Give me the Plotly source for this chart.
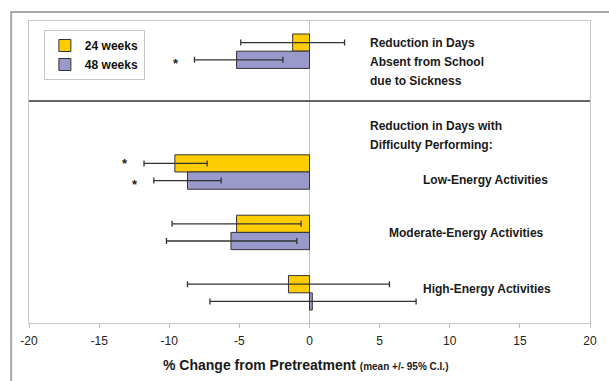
import plotly.graph_objects as go

# ---- data ----
categories = ["Absent from School due to Sickness", "Difficulty Performing",
              "Low-Energy Activities", "Moderate-Energy Activities", "High-Energy Activities"]
wk24_mean = [-1.2, None, -9.6, -5.2, -1.5]
wk24_lo = [-4.9, None, -11.8, -9.8, -8.7]
wk24_hi = [2.5, None, -7.3, -0.6, 5.7]
wk48_mean = [-5.2, None, -8.7, -5.6, 0.2]
wk48_lo = [-8.2, None, -11.1, -10.2, -7.1]
wk48_hi = [-1.9, None, -6.3, -0.9, 7.6]
wk24_sig = [False, False, True, False, False]
wk48_sig = [True, False, True, False, False]
x_ticks = [-20, -15, -10, -5, 0, 5, 10, 15, 20]
x_tick_labels = ["-20", "-15", "-10", "-5", "0", "5", "10", "15", "20"]

FONT = "Liberation Sans, Arial, sans-serif"
YELLOW = "#FFCC00"
PURPLE = "#9999CC"


def plus(m, hi):
    return [None if v is None else h - v for v, h in zip(m, hi)]


def minus(m, lo):
    return [None if v is None else v - l for v, l in zip(m, lo)]


fig = go.Figure()
for name, mean, lo, hi, color in [("24 weeks", wk24_mean, wk24_lo, wk24_hi, YELLOW),
                                  ("48 weeks", wk48_mean, wk48_lo, wk48_hi, PURPLE)]:
    fig.add_trace(go.Bar(
        y=categories, x=mean, orientation="h", name=name,
        marker=dict(color=color, line=dict(color="#333333", width=1)),
        error_x=dict(type="data", symmetric=False, array=plus(mean, hi),
                     arrayminus=minus(mean, lo), color="#333333", thickness=1.3, width=3),
    ))

# significance stars
annotations = []
for sig, lo, shift in [(wk24_sig, wk24_lo, 9), (wk48_sig, wk48_lo, -12)]:
    for cat, s, l in zip(categories, sig, lo):
        if s:
            annotations.append(dict(x=l - 1.35, y=cat, xref="x", yref="y", text="<b>*</b>",
                                    showarrow=False, yshift=shift,
                                    font=dict(family=FONT, size=13, color="#222222")))

# helper: pixel -> paper
PL, PT, PW, PH = 29, 21, 566, 302


def px(x):
    return (x - PL) / PW


def py(y):
    return 1 - (y - PT) / PH


text_items = [
    ("Reduction in Days", 371, 43), ("Absent from School", 371, 62), ("due to Sickness", 371, 81),
    ("Reduction in Days with", 371, 126), ("Difficulty Performing:", 371, 145),
    ("Low-Energy Activities", 424, 180), ("Moderate-Energy Activities", 390, 233),
    ("High-Energy Activities", 424, 289),
]
for t, x, y in text_items:
    annotations.append(dict(x=px(x), y=py(y), xref="paper", yref="paper", text="<b>" + t + "</b>",
                            xanchor="left", yanchor="middle", showarrow=False,
                            font=dict(family=FONT, size=12, color="#1a1a1a")))

annotations.append(dict(
    x=px(308), y=py(365), xref="paper", yref="paper", showarrow=False,
    xanchor="center", yanchor="middle",
    text="<b>% Change from Pretreatment</b> <b><span style='font-size:10px'>(mean +/- 95% C.I.)</span></b>",
    font=dict(family=FONT, size=14, color="#1a1a1a")))

shapes = [
    # separator line
    dict(type="line", xref="paper", yref="paper", x0=0, x1=1, y0=py(101), y1=py(101),
         line=dict(color="#333333", width=1.5)),
    # outer chart frame (left and top edges visible)
    dict(type="rect", xref="paper", yref="paper",
         x0=px(11), x1=px(640), y0=py(420), y1=py(12),
         line=dict(color="#a8a8a8", width=2), fillcolor="rgba(0,0,0,0)", layer="above"),
]

fig.update_layout(
    width=609, height=381,
    margin=dict(l=29, r=14, t=21, b=58),
    paper_bgcolor="white", plot_bgcolor="white",
    barmode="group", bargap=0.43, bargroupgap=0,
    font=dict(family=FONT, size=12, color="#222222"),
    showlegend=True,
    legend=dict(x=px(44), y=py(30), xanchor="left", yanchor="top",
                bgcolor="white", bordercolor="#c8c8c8", borderwidth=1,
                font=dict(family=FONT, size=12, color="#111111", weight="bold"),
                itemwidth=30, tracegroupgap=0),
    annotations=annotations,
    shapes=shapes,
    xaxis=dict(range=[-20, 20], tickvals=x_ticks, ticktext=x_tick_labels, ticks="outside",
               ticklen=4, tickcolor="#bbbbbb", showgrid=False, zeroline=True,
               zerolinecolor="#c0c0c0", zerolinewidth=1, showline=True, linecolor="#c8c8c8",
               mirror=True, tickfont=dict(family=FONT, size=12, color="#222222"),
               ticklabelstandoff=3),
    yaxis=dict(categoryorder="array", categoryarray=categories, range=[4.5, -0.5],
               showticklabels=False, ticks="", showgrid=False, zeroline=False,
               showline=True, linecolor="#c8c8c8", mirror=True),
)

fig.write_html("out.html", config={"displayModeBar": False},
               post_script="document.body.style.margin='0';document.body.style.overflow='hidden';")
